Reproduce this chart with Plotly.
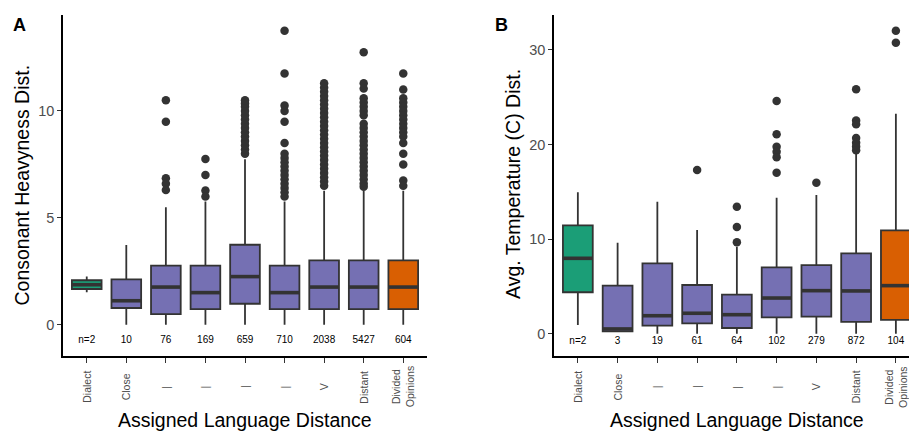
import plotly.graph_objects as go

# ---------------- data ----------------
categories = ["Dialect", "Close", "|", "|", "|", "|", "V", "Distant", "Divided<br>Opinions"]
positions = [1, 2, 3, 4, 5, 6, 7, 8, 9]
group = ["dialect", "lang", "lang", "lang", "lang", "lang", "lang", "lang", "divided"]

# Panel A: Consonant Heavyness Dist.
a_counts = ["n=2", "10", "76", "169", "659", "710", "2038", "5427", "604"]
a_lower = [1.52, 0.0, 0.0, 0.0, 0.0, 0.0, 0.0, 0.0, 0.0]
a_q1 = [1.67, 0.78, 0.49, 0.73, 0.98, 0.73, 0.73, 0.73, 0.73]
a_median = [1.87, 1.12, 1.76, 1.50, 2.25, 1.50, 1.76, 1.76, 1.76]
a_q3 = [2.08, 2.12, 2.76, 2.76, 3.74, 2.76, 3.01, 3.01, 3.01]
a_upper = [2.25, 3.73, 5.49, 5.76, 7.74, 5.76, 6.27, 6.27, 6.27]
a_outliers = [
    [],
    [],
    [10.5, 9.5, 6.85, 6.6, 6.3],
    [7.75, 7.0, 6.28, 6.0],
    [8.0, 8.2, 8.4, 8.6, 8.8, 9.0, 9.2, 9.4, 9.6, 9.8, 10.0, 10.2, 10.35, 10.5],
    [13.75, 11.75, 10.25, 10.0, 9.5, 8.5, 8.0, 7.8, 7.6, 7.4, 7.2, 7.0, 6.8, 6.6, 6.4, 6.2, 6.0],
    [6.5, 6.7, 6.9, 7.1, 7.3, 7.5, 7.7, 7.9, 8.1, 8.3, 8.5, 8.7, 8.9, 9.1, 9.3, 9.5,
     9.7, 9.9, 10.1, 10.3, 10.5, 10.7, 10.9, 11.1, 11.3],
    [12.75, 11.3, 11.05, 10.6, 10.4, 10.2, 10.0, 9.8, 9.4, 9.2, 9.0, 8.8, 8.6, 8.4,
     8.2, 8.0, 7.8, 7.6, 7.4, 7.2, 7.0, 6.8, 6.6, 6.45],
    [11.75, 11.0, 10.6, 10.4, 10.2, 10.0, 9.8, 9.6, 9.4, 9.2, 9.0, 8.8, 8.5, 8.0, 7.5, 6.75, 6.5],
]

# Panel B: Avg. Temperature (C) Dist.
b_counts = ["n=2", "3", "19", "61", "64", "102", "279", "872", "104"]
b_lower = [0.92, 0.25, 0.0, 0.0, 0.0, 0.0, 0.0, 0.0, 0.0]
b_q1 = [4.38, 0.25, 0.85, 1.10, 0.60, 1.73, 1.80, 1.24, 1.45]
b_median = [7.97, 0.50, 1.90, 2.16, 2.01, 3.77, 4.55, 4.52, 5.08]
b_q3 = [11.46, 5.08, 7.44, 5.15, 4.12, 7.02, 7.26, 8.50, 10.93]
b_upper = [14.95, 9.62, 13.96, 10.97, 9.20, 14.38, 14.67, 19.00, 23.26]
b_outliers = [
    [],
    [],
    [],
    [17.31],
    [13.43, 11.28, 9.66],
    [24.6, 21.08, 19.77, 19.25, 18.65, 17.03],
    [15.97],
    [25.85, 22.55, 22.15, 20.7, 20.2, 19.8, 19.4],
    [32.04, 30.77],
]

# ---------------- style ----------------
fills = {"dialect": "#1B9E77", "lang": "#7570B3", "divided": "#D95F02"}
outline = "#333333"
box_w = 0.75
font = "Liberation Sans, Arial, sans-serif"

fig = go.Figure()


def add_panel(xa, ya, lower, q1, med, q3, upper, outliers, counts, count_y):
    for i, p in enumerate(positions):
        fig.add_trace(go.Box(
            x=[p], q1=[q1[i]], median=[med[i]], q3=[q3[i]],
            lowerfence=[lower[i]], upperfence=[upper[i]],
            width=box_w, whiskerwidth=0, boxpoints=False,
            fillcolor=fills[group[i]], line=dict(color=outline, width=1.8),
            xaxis=xa, yaxis=ya, hoverinfo="skip",
        ))
    # thick median lines
    mx, my = [], []
    for i, p in enumerate(positions):
        mx += [p - box_w / 2, p + box_w / 2, None]
        my += [med[i], med[i], None]
    fig.add_trace(go.Scatter(x=mx, y=my, mode="lines",
                             line=dict(color=outline, width=3.6),
                             xaxis=xa, yaxis=ya, hoverinfo="skip"))
    # outliers
    ox, oy = [], []
    for i, p in enumerate(positions):
        for v in outliers[i]:
            ox.append(p)
            oy.append(v)
    fig.add_trace(go.Scatter(x=ox, y=oy, mode="markers",
                             marker=dict(color=outline, size=8.5, line=dict(width=0)),
                             xaxis=xa, yaxis=ya, hoverinfo="skip"))
    # counts
    fig.add_trace(go.Scatter(x=positions, y=[count_y] * len(positions), mode="text",
                             text=counts, textfont=dict(family=font, size=10, color="black"),
                             xaxis=xa, yaxis=ya, hoverinfo="skip"))


add_panel("x", "y", a_lower, a_q1, a_median, a_q3, a_upper, a_outliers, a_counts, -0.75)
add_panel("x2", "y2", b_lower, b_q1, b_median, b_q3, b_upper, b_outliers, b_counts, -0.8)

W, H = 909, 432
ydom = [1 - 356 / H, 1 - 15 / H]

common_x = dict(showline=True, linecolor="black", linewidth=1.6, ticks="outside",
                ticklen=5, tickwidth=1.4, tickcolor=outline, tickvals=positions,
                showticklabels=False, showgrid=False, zeroline=False, fixedrange=True)
common_y = dict(showline=True, linecolor="black", linewidth=1.6, ticks="outside",
                ticklen=4, tickwidth=1.4, tickcolor=outline, showgrid=False,
                zeroline=False, tickfont=dict(family=font, size=14.5, color="#4D4D4D"))

fig.update_layout(
    width=W, height=H, margin=dict(l=0, r=0, t=0, b=0),
    paper_bgcolor="white", plot_bgcolor="white", showlegend=False,
    font=dict(family=font),
    xaxis=dict(domain=[63 / W, 427 / W], range=[0.4, 9.6], anchor="y", **common_x),
    yaxis=dict(domain=ydom, range=[-1.465, 14.49], tickvals=[0, 5, 10], anchor="x", **common_y),
    xaxis2=dict(domain=[554 / W, 1.0], range=[0.4, 9.33], anchor="y2", **common_x),
    yaxis2=dict(domain=ydom, range=[-2.36, 33.7], tickvals=[0, 10, 20, 30], anchor="x2", **common_y),
)

ann = []
# category labels (rotated, centered on tick)
for xr in ["x", "x2"]:
    for p, lab in zip(positions, categories):
        ann.append(dict(x=p, y=1 - 387 / H, xref=xr, yref="paper", text=lab,
                        textangle=-90, showarrow=False, xanchor="center", yanchor="middle",
                        font=dict(family=font, size=10.5, color="#4D4D4D")))
# axis titles
title_font = dict(family=font, size=19.5, color="black")
common_ann = dict(xref="paper", yref="paper", showarrow=False, xanchor="center", yanchor="middle")
ann.append(dict(x=245 / W, y=1 - 420 / H, text="Assigned Language Distance", font=title_font, **common_ann))
ann.append(dict(x=736.5 / W, y=1 - 420 / H, text="Assigned Language Distance", font=title_font, **common_ann))
ann.append(dict(x=21 / W, y=1 - 185.5 / H, text="Consonant Heavyness Dist.", textangle=-90,
                font=title_font, **common_ann))
ann.append(dict(x=513 / W, y=1 - 184 / H, text="Avg. Temperature (C) Dist.", textangle=-90,
                font=title_font, **common_ann))
# panel tags
ann.append(dict(x=19.7 / W, y=1 - 24.5 / H, text="<b>A</b>",
                font=dict(family=font, size=18, color="black"), **common_ann))
ann.append(dict(x=501.7 / W, y=1 - 24.5 / H, text="<b>B</b>",
                font=dict(family=font, size=18, color="black"), **common_ann))
fig.update_layout(annotations=ann)

fig.write_html("out.html")
